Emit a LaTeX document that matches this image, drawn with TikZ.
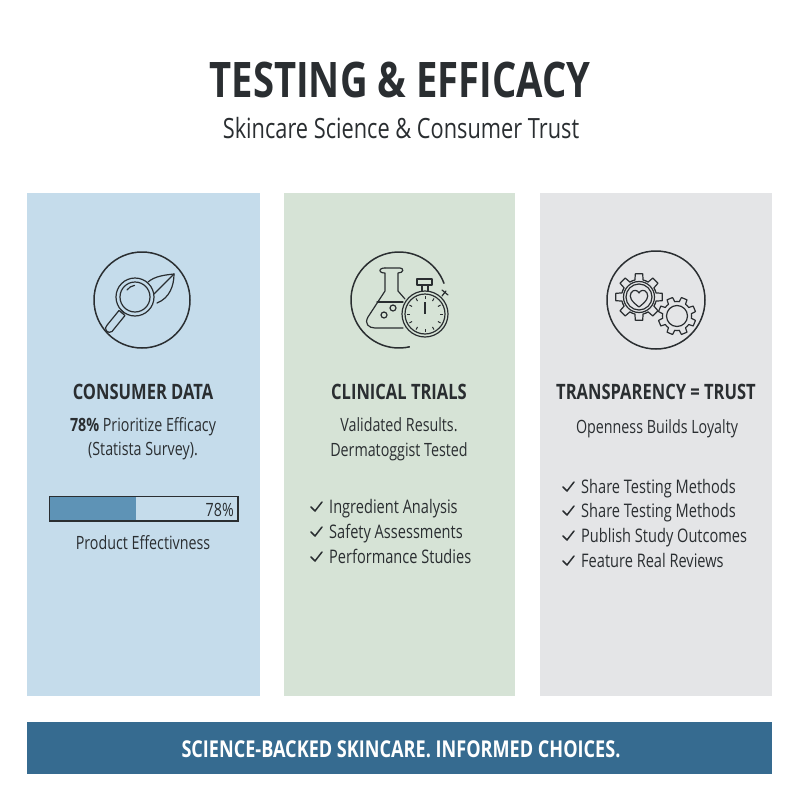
\documentclass[tikz,border=0pt]{standalone}
\usepackage{fontspec}
\setmainfont[FakeStretch=0.78]{Open Sans}
\definecolor{ink}{HTML}{2A2E31}
\definecolor{pblue}{HTML}{C5DCEB}
\definecolor{pgreen}{HTML}{D6E3D6}
\definecolor{pgrey}{HTML}{E4E5E7}
\definecolor{barfill}{HTML}{5E93B6}
\definecolor{banner}{HTML}{366B90}
\newcommand{\geartooth}[6]{% cx cy router rroot n phase
  \pgfmathsetmacro{\st}{360/#5}
  \foreach \k in {1,...,#5}{
    \pgfmathsetmacro{\a}{#6+\k*\st}
    \draw[icon,line join=round] ({#1+#4*cos(\a-.5*\st)},{#2+#4*sin(\a-.5*\st)})
      arc[start angle=\a-.5*\st,end angle=\a-.3*\st,radius=#4]
      -- ({#1+#3*cos(\a-.2*\st)},{#2+#3*sin(\a-.2*\st)})
      -- ({#1+#3*cos(\a+.2*\st)},{#2+#3*sin(\a+.2*\st)})
      -- ({#1+#4*cos(\a+.3*\st)},{#2+#4*sin(\a+.3*\st)})
      arc[start angle=\a+.3*\st,end angle=\a+.5*\st,radius=#4];
  }
}
\tikzset{
  icon/.style={draw=ink,line width=1.2pt,line cap=round},
  ring/.style={draw=ink,line width=1.5pt},
  head/.style={text=ink,font=\fontsize{21.2}{24}\selectfont\bfseries,anchor=base,inner sep=0pt},
  body/.style={text=ink,font=\fontsize{18.3}{22}\selectfont,anchor=base,inner sep=0pt},
  item/.style={text=ink,font=\fontsize{18.7}{22}\selectfont,anchor=base west,inner sep=0pt},
  tick/.style={draw=ink,line width=1.5pt,line cap=round,line join=round}
}
\begin{document}
\begin{tikzpicture}[x=1pt,y=-1pt]
\useasboundingbox (0,0) rectangle (800,800);
\fill[white] (0,0) rectangle (800,800);
% panels
\fill[pblue] (27,193) rectangle (260,696);
\fill[pgreen] (284,193) rectangle (515,696);
\fill[pgrey] (540,193) rectangle (772,696);
\fill[banner] (27,722) rectangle (772,774);
% titles
\node[text=ink,font=\fontsize{49}{52}\selectfont\bfseries,inner sep=0pt] (title) at (400,80) {TESTING \& EFFICACY};
\node[text=ink,font=\fontsize{27.9}{30}\selectfont,inner sep=0pt] (sub) at (401,128) {Skincare Science \& Consumer Trust};
% icon 1
\draw[ring] (142,300) circle (48);
\draw[icon] (135,297) circle (19);
\draw[icon] (135,297) circle (15);
\draw[icon] (127,290) arc[start angle=215,end angle=262,radius=11];
\draw[icon,line join=round] (125,315.5) -- (112,331.5) arc[start angle=51,end angle=231,radius=4] -- (119,310.5) -- cycle;
\draw[icon] (121,310) -- (124,313);
\draw[icon] (148,282) .. controls (155,276) and (165,275) .. (174,274) .. controls (174,285) and (170,298) .. (157,303);
\draw[icon] (174,274) -- (154,294);
% icon 2
\draw[ring] (399,300) ++(77:48) arc[start angle=77,end angle=340,radius=48];
\draw[icon,line join=round] (385,268) -- (400,268) .. controls (404,268) and (404,273) .. (398,273) -- (398,291) -- (405,299);
\draw[icon,line join=round] (385,268) .. controls (378,268) and (378,273) .. (385,273) -- (385,291) -- (368,317) .. controls (364,324) and (369,328) .. (375,328) -- (403,328);
\draw[icon] (377,302) -- (403,302);
\draw[icon] (384,315) circle (3);
\draw[icon] (393,308) circle (3);
\draw[icon] (425,314) circle (23);
\draw[icon] (425,314) circle (20);
\draw[icon,line join=round] (417,279) rectangle (432,285);
\draw[icon] (422,285) -- (422,291) (428,285) -- (428,291);
\draw[icon] (442,296) -- (446,291) (442,290) -- (448,295);
\foreach \a in {0,30,...,330}{
  \draw[draw=ink,line width=1pt] ({425+15*cos(\a)},{314+15*sin(\a)}) -- ({425+18*cos(\a)},{314+18*sin(\a)});
}
\draw[draw=ink,line width=1.6pt] (425,302) -- (425,314);
% icon 3
\draw[ring] (656,300) circle (49);
\geartooth{639}{297}{23.5}{17.5}{8}{0}
\draw[icon] (639,297) circle (13);
\draw[icon] (639,297) circle (15.5);
\draw[icon,line join=round] (639,307) .. controls (631,301) and (629,297) .. (631,293) .. controls (633,289) and (638,290) .. (639,293) .. controls (640,290) and (645,289) .. (647,293) .. controls (649,297) and (647,301) .. (639,307);
\geartooth{677}{316}{19}{14.5}{8}{22.5}
\draw[icon] (677,316) circle (10.5);
% column 1
\node[head] (h1) at (143,399) {CONSUMER DATA};
\node[body] (b1a) at (143,431) {\textbf{78\%} Prioritize Efficacy};
\node[body] (b1b) at (143,455) {(Statista Survey).};
\fill[barfill] (50,497) rectangle (136,521);
\draw[draw=ink,line width=1.3pt] (49.5,496.5) rectangle (238,521) ;
\node[text=ink,font=\fontsize{18.3}{22}\selectfont,anchor=base east,inner sep=0pt] (pct) at (234,516) {78\%};
\node[body] (b1c) at (143,549) {Product Effectivness};
% column 2
\node[head] (h2) at (399,399) {CLINICAL TRIALS};
\node[body] (b2a) at (399,431) {Validated Results.};
\node[body] (b2b) at (399,456) {Dermatoggist Tested};
\foreach \n/\y/\t in {a/507/Ingredient Analysis,b/532/Safety Assessments,c/557/Performance Studies}{
  \node[item] (l2\n) at (329,\y+6.5) {\t};
  \draw[tick] (311,\y) -- (315,\y+4) -- (322,\y-5);
}
% column 3
\node[head] (h3) at (656,399) {TRANSPARENCY = TRUST};
\node[body] (b3a) at (657,433) {Openness Builds Loyalty};
\foreach \n/\y/\t in {a/487/Share Testing Methods,b/511/Share Testing Methods,c/536/Publish Study Outcomes,d/561/Feature Real Reviews}{
  \node[item] (l3\n) at (581,\y+6.5) {\t};
  \draw[tick] (563,\y) -- (567,\y+4) -- (574,\y-5);
}
% banner
\node[text=white,font=\fontsize{23.2}{26}\selectfont\bfseries,inner sep=0pt] (ban) at (401,749) {SCIENCE-BACKED SKINCARE. INFORMED CHOICES.};
\end{tikzpicture}
\end{document}
